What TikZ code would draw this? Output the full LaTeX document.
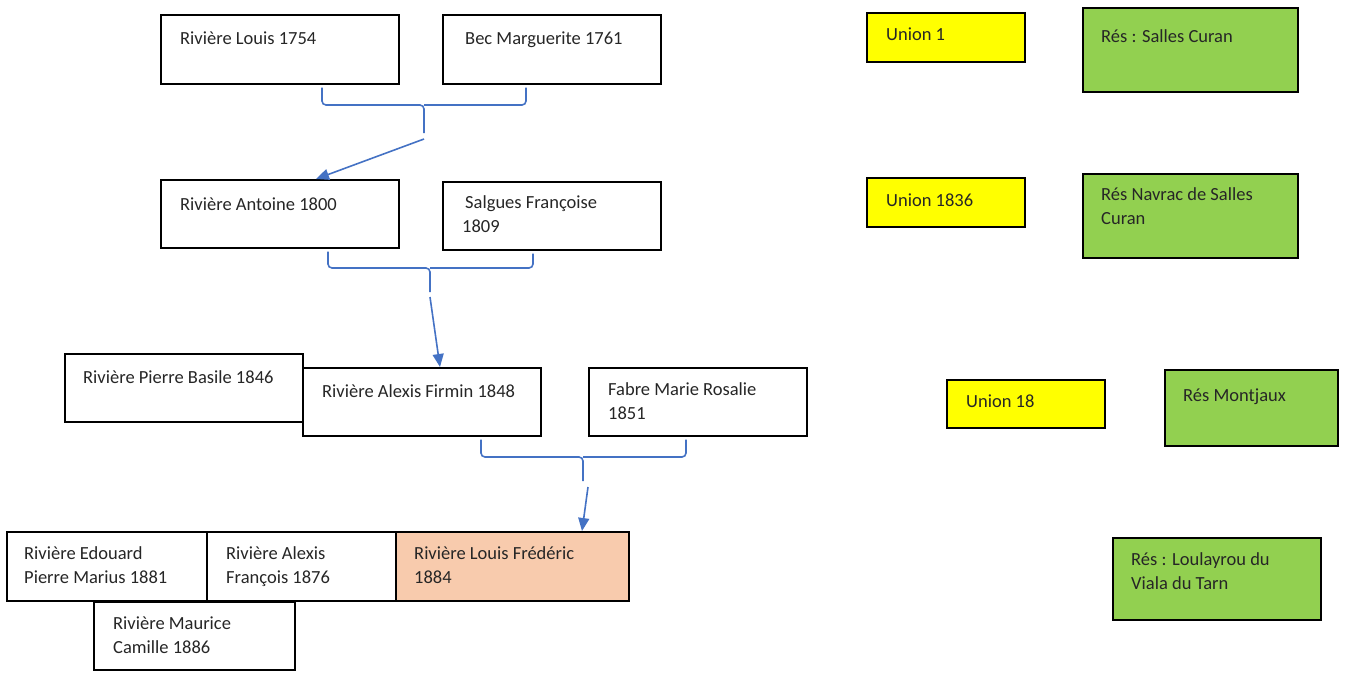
\documentclass[tikz,border=0pt]{standalone}
\usepackage{fontspec}
\setmainfont{Carlito}
\usetikzlibrary{arrows.meta}
\definecolor{wblue}{HTML}{4472C4}
\definecolor{wyellow}{HTML}{FFFF00}
\definecolor{wgreen}{HTML}{92D050}
\definecolor{wpeach}{HTML}{F8CBAD}
\definecolor{wtext}{HTML}{262626}
\begin{document}
\begin{tikzpicture}[x=1pt,y=-1pt,
  box/.style={draw=black, line width=1.6pt, rectangle, inner sep=0pt, anchor=north west, fill=white},
  union/.style={box, fill=wyellow},
  res/.style={box, fill=wgreen},
  txt/.style={anchor=base west, inner sep=0pt, align=left, text=wtext,
    font=\fontsize{18.5}{24}\selectfont},
  brace/.style={draw=wblue, line width=1.6pt, rounded corners=4pt},
  arr/.style={draw=wblue, line width=1.6pt, -{Triangle[length=13pt,width=11pt]}}]
\useasboundingbox (0,0) rectangle (1346,675);

% generation 1
\node[box, minimum width=238, minimum height=69] (b1) at (160,14) {};
\node[box, minimum width=218, minimum height=69] (b2) at (442,14) {};
\node[txt] (t1) at (180,44) {Rivière Louis 1754};
\node[txt] (t2) at (465,44) {Bec Marguerite 1761};

% generation 2
\node[box, minimum width=238, minimum height=68] (b3) at (160,179) {};
\node[box, minimum width=218, minimum height=68] (b4) at (442,181) {};
\node[txt] (t3) at (180,210) {Rivière Antoine 1800};
\node[txt] (t4) at (465,208) {Salgues Françoise};
\node[txt] (t4b) at (462,232) {1809};

% generation 3
\node[box, minimum width=238, minimum height=68] (b5) at (64,353) {};
\node[box, minimum width=238, minimum height=68] (b6) at (302,367) {};
\node[box, minimum width=218, minimum height=68] (b7) at (588,367) {};
\node[txt] (t5) at (83,383) {Rivière Pierre Basile 1846};
\node[txt] (t6) at (322,397) {Rivière Alexis Firmin 1848};
\node[txt] (t7) at (608,419) {Fabre Marie Rosalie\\1851};

% generation 4
\node[box, minimum width=200, minimum height=69] (b8) at (6,531) {};
\node[box, minimum width=189, minimum height=69] (b9) at (206,531) {};
\node[box, fill=wpeach, minimum width=233, minimum height=69] (b10) at (395,531) {};
\node[box, minimum width=201, minimum height=68] (b11) at (93,601) {};
\node[txt] (t8) at (24,583) {Rivière Edouard\\Pierre Marius 1881};
\node[txt] (t9) at (226,583) {Rivière Alexis\\François 1876};
\node[txt] (t10) at (414,583) {Rivière Louis Frédéric\\1884};
\node[txt] (t11) at (113,653) {Rivière Maurice\\Camille 1886};

% right column
\node[union, minimum width=158, minimum height=49] (u1) at (866,12) {};
\node[res, minimum width=215, minimum height=84] (r1) at (1082,7) {};
\node[union, minimum width=158, minimum height=49] (u2) at (866,177) {};
\node[res, minimum width=215, minimum height=84] (r2) at (1082,173) {};
\node[union, minimum width=158, minimum height=48] (u3) at (946,379) {};
\node[res, minimum width=173, minimum height=76] (r3) at (1164,369) {};
\node[res, minimum width=208, minimum height=82] (r4) at (1112,537) {};
\node[txt] (tu1) at (886,40) {Union 1};
\node[txt] (tr1) at (1101,42) {Rés : Salles Curan};
\node[txt] (tu2) at (886,206) {Union 1836};
\node[txt] (tr2) at (1101,224) {Rés Navrac de Salles\\Curan};
\node[txt] (tu3) at (966,407) {Union 18};
\node[txt] (tr3) at (1183,401) {Rés Montjaux};
\node[txt] (tr4) at (1131,589) {Rés : Loulayrou du\\Viala du Tarn};

% braces and arrows
\coordinate (m1) at (424,105);
\draw[brace] ([xshift=162pt,yshift=-3pt]b1.south west) |- (m1) -- ++(0,28);
\draw[brace] ([xshift=84pt,yshift=-3pt]b2.south west) |- (m1);
\coordinate (a1) at (424,139);
\draw[arr] (a1) -- ([xshift=156pt]b3.north west);

\coordinate (m2) at (430,268);
\draw[brace] ([xshift=168pt,yshift=-3pt]b3.south west) |- (m2) -- ++(0,24);
\draw[brace] ([xshift=91pt,yshift=-3pt]b4.south west) |- (m2);
\coordinate (a2) at (430,297);
\draw[arr] (a2) -- ([xshift=138pt]b6.north west);

\coordinate (m3) at (583,457);
\draw[brace] ([xshift=179pt,yshift=-3pt]b6.south west) |- (m3) -- ++(0,24);
\draw[brace] ([xshift=98pt,yshift=-3pt]b7.south west) |- (m3);
\coordinate (a3) at (588,487);
\draw[arr] (a3) -- ([xshift=187pt]b10.north west);
\end{tikzpicture}
\end{document}
